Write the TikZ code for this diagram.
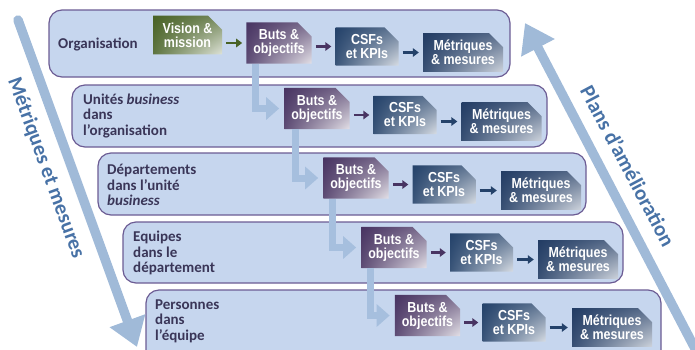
\documentclass[tikz,border=0pt]{standalone}
\usepackage{fontspec}
\setmainfont{Carlito}
\newfontfamily\boxfont[FakeStretch=0.86]{Liberation Sans}
\usetikzlibrary{arrows.meta,shapes.misc,shadings}

\definecolor{panelfill}{RGB}{198,214,238}
\definecolor{paneledge}{RGB}{108,92,148}
\definecolor{labeltext}{RGB}{58,54,88}
\definecolor{flowblue}{RGB}{160,186,216}
\definecolor{flowtext}{RGB}{72,114,166}
\definecolor{elbowblue}{RGB}{166,191,222}
\definecolor{visdark}{RGB}{72,98,38}
\definecolor{butsdark}{RGB}{72,52,98}
\definecolor{csfdark}{RGB}{36,66,106}
\definecolor{metdark}{RGB}{34,60,100}

\tikzset{
  panel/.style={draw=paneledge, line width=1.2pt, fill=panelfill, rounded corners=13pt},
  rowlabel/.style={anchor=west, align=left, text=labeltext, inner sep=0pt,
    font=\bfseries\fontsize{15}{15.5}\selectfont},
  card/.style={chamfered rectangle, chamfered rectangle corners=north east,
    chamfered rectangle xsep=7pt, chamfered rectangle ysep=7pt,
    inner sep=0pt, align=center, text=white,
    font=\boxfont\bfseries\fontsize{14.5}{14}\selectfont},
  vision/.style={card, minimum width=69pt, minimum height=36pt,
    upper left=visdark, lower left=visdark!88!white,
    upper right=visdark!75!white, lower right=visdark!18!white},
  buts/.style={card, minimum width=62pt, minimum height=35pt,
    upper left=butsdark, lower left=butsdark!88!white,
    upper right=butsdark!72!white, lower right=butsdark!15!white},
  csf/.style={card, minimum width=63pt, minimum height=37pt,
    upper left=csfdark, lower left=csfdark!90!white,
    upper right=csfdark!72!white, lower right=csfdark!18!white},
  metr/.style={card, minimum width=80pt, minimum height=37pt,
    upper left=metdark, lower left=metdark!90!white,
    upper right=metdark!75!white, lower right=metdark!22!white},
  link/.style={line width=2.6pt, -{Triangle[length=6pt,width=8.5pt]},
    shorten <=4pt, shorten >=4pt},
  elbow/.style={draw=elbowblue, line width=7pt,
    -{Triangle[length=13pt,width=22pt]}, shorten >=5pt},
  bigflow/.style={draw=flowblue, line width=9.5pt, line cap=round,
    -{Triangle[length=28pt,width=36pt]}},
  flowlabel/.style={text=flowtext, inner sep=0pt,
    font=\bfseries\fontsize{21}{21}\selectfont}
}

\begin{document}
\begin{tikzpicture}[x=1pt, y=-1pt]
\useasboundingbox (0,0) rectangle (695,349);
\clip (0,0) rectangle (695,349);

% the five organisational levels
\draw[panel] (49,10) rectangle (510,77);
\draw[panel] (72,85) rectangle (547,147);
\draw[panel] (98,153) rectangle (586,215);
\draw[panel] (123,222) rectangle (623,283);
\draw[panel] (146,290) rectangle (661,370);

\node[rowlabel] (l1) at (58,44) {Organisation};
\node[rowlabel] (l2) at (83,116) {Unités \textit{business}\\dans\\l’organisation};
\node[rowlabel] (l3) at (107,185) {Départements\\dans l’unité\\\textit{business}};
\node[rowlabel] (l4) at (133,253) {Equipes\\dans le\\département};
\node[rowlabel] (l5) at (155,321) {Personnes\\dans\\l’équipe};

% level 1
\node[vision] (v)  at (187.5,35) {Vision \&\\mission};
\node[buts]   (b1) at (279,43)   {Buts \&\\objectifs};
\node[csf]    (c1) at (367,46.5) {CSFs\\et KPIs};
\node[metr]   (m1) at (463,52.5) {Métriques\\\& mesures};
% level 2
\node[buts]   (b2) at (317,108.5) {Buts \&\\objectifs};
\node[csf]    (c2) at (405,115)   {CSFs\\et KPIs};
\node[metr]   (m2) at (501.5,121.5) {Métriques\\\& mesures};
% level 3
\node[buts]   (b3) at (356,178)   {Buts \&\\objectifs};
\node[csf]    (c3) at (444,184.5) {CSFs\\et KPIs};
\node[metr]   (m3) at (541,190.5) {Métriques\\\& mesures};
% level 4
\node[buts]   (b4) at (394,247.5) {Buts \&\\objectifs};
\node[csf]    (c4) at (481.5,252.5) {CSFs\\et KPIs};
\node[metr]   (m4) at (578,259.5) {Métriques\\\& mesures};
% level 5
\node[buts]   (b5) at (427.5,315.5) {Buts \&\\objectifs};
\node[csf]    (c5) at (514,322.5) {CSFs\\et KPIs};
\node[metr]   (m5) at (612,327.5) {Métriques\\\& mesures};

% links inside each level
\draw[link, draw=visdark] (v.east |- b1.west) -- (b1.west);
\foreach \i in {1,...,5}{
  \draw[link, draw=butsdark] (b\i.east |- c\i.west) -- (c\i.west);
  \draw[link, draw=csfdark]  (c\i.east |- m\i.west) -- (m\i.west);
}

% cascading goals from one level to the next
\draw[elbow] ([xshift=9pt]b1.south west) |- (b2.west);
\draw[elbow] ([xshift=11pt]b2.south west) |- (b3.west);
\draw[elbow] ([xshift=9pt]b3.south west) |- (b4.west);
\draw[elbow] ([xshift=9pt]b4.south west) |- (b5.west);

% measurement flows down, improvement plans flow up
\coordinate (dtop) at (18,20);
\coordinate (dtip) at (137,347);
\draw[bigflow] (dtop) -- (dtip);
\node[flowlabel, rotate=-70] (dl) at (46,168) {Métriques et mesures};

\coordinate (ubot) at (701,360);
\coordinate (utip) at (525,23);
\draw[bigflow] (ubot) -- (utip);
\node[flowlabel, rotate=-62] (ul) at (628,166) {Plans d’amélioration};
\end{tikzpicture}
\end{document}
